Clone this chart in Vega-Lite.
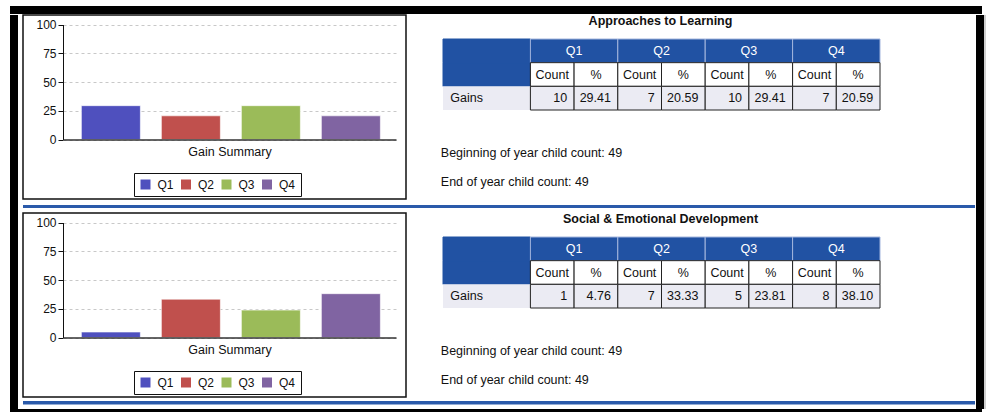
{
  "$schema": "https://vega.github.io/schema/vega-lite/v6.json",
  "padding": {"left": 10, "top": 6, "right": 0, "bottom": 0},
  "background": "white",
  "config": {"font": "Liberation Sans", "view": {"stroke": null}},
  "datasets": {
    "hdr": [
      {"col": "label", "row": "head"}, {"col": "label", "row": "sub"},
      {"col": "Q1", "row": "head", "text": "Q1"}, {"col": "Q2", "row": "head", "text": "Q2"},
      {"col": "Q3", "row": "head", "text": "Q3"}, {"col": "Q4", "row": "head", "text": "Q4"}
    ],
    "sub": [
      {"col": "Q1", "sub": "Count", "row": "sub", "text": "Count"}, {"col": "Q1", "sub": "%", "row": "sub", "text": "%"},
      {"col": "Q2", "sub": "Count", "row": "sub", "text": "Count"}, {"col": "Q2", "sub": "%", "row": "sub", "text": "%"},
      {"col": "Q3", "sub": "Count", "row": "sub", "text": "Count"}, {"col": "Q3", "sub": "%", "row": "sub", "text": "%"},
      {"col": "Q4", "sub": "Count", "row": "sub", "text": "Count"}, {"col": "Q4", "sub": "%", "row": "sub", "text": "%"}
    ],
    "gainsLabel": [{"col": "label", "row": "Gains", "text": "Gains"}],
    "gains1": [
      {"col": "Q1", "sub": "Count", "row": "Gains", "text": "10"}, {"col": "Q1", "sub": "%", "row": "Gains", "text": "29.41"},
      {"col": "Q2", "sub": "Count", "row": "Gains", "text": "7"}, {"col": "Q2", "sub": "%", "row": "Gains", "text": "20.59"},
      {"col": "Q3", "sub": "Count", "row": "Gains", "text": "10"}, {"col": "Q3", "sub": "%", "row": "Gains", "text": "29.41"},
      {"col": "Q4", "sub": "Count", "row": "Gains", "text": "7"}, {"col": "Q4", "sub": "%", "row": "Gains", "text": "20.59"}
    ],
    "gains2": [
      {"col": "Q1", "sub": "Count", "row": "Gains", "text": "1"}, {"col": "Q1", "sub": "%", "row": "Gains", "text": "4.76"},
      {"col": "Q2", "sub": "Count", "row": "Gains", "text": "7"}, {"col": "Q2", "sub": "%", "row": "Gains", "text": "33.33"},
      {"col": "Q3", "sub": "Count", "row": "Gains", "text": "5"}, {"col": "Q3", "sub": "%", "row": "Gains", "text": "23.81"},
      {"col": "Q4", "sub": "Count", "row": "Gains", "text": "8"}, {"col": "Q4", "sub": "%", "row": "Gains", "text": "38.10"}
    ],
    "bars1": [{"q": "Q1", "pct": 29.41}, {"q": "Q2", "pct": 20.59}, {"q": "Q3", "pct": 29.41}, {"q": "Q4", "pct": 20.59}],
    "bars2": [{"q": "Q1", "pct": 4.76}, {"q": "Q2", "pct": 33.33}, {"q": "Q3", "pct": 23.81}, {"q": "Q4", "pct": 38.10}],
    "info": [{"line": "begin", "text": "Beginning of year child count: 49"}, {"line": "end", "text": "End of year child count: 49"}]
  },
  "spacing": 0,
  "resolve": {"scale": {"color": "independent"}, "legend": {"color": "independent"}},
  "vconcat": [
    {"width": 972, "height": 8, "data": {"values": [{}]}, "mark": {"type": "point", "opacity": 0, "size": 0}, "encoding": {}, "view": {"fill": "black", "stroke": null}},
    {
      "spacing": 0,
      "resolve": {"scale": {"color": "independent"}, "legend": {"color": "independent"}},
      "hconcat": [
        {"width": 8, "height": 394, "data": {"values": [{}]}, "mark": {"type": "point", "opacity": 0, "size": 0}, "encoding": {}, "view": {"fill": "black", "stroke": null}},
        {"width": 3.25, "height": 1, "data": {"values": [{}]}, "mark": {"type": "point", "opacity": 0, "size": 0}, "encoding": {}, "view": {"stroke": null}},
        {
          "spacing": 0,
          "resolve": {"scale": {"color": "independent"}, "legend": {"color": "independent"}},
          "vconcat": [
            {
              "spacing": 0,
              "resolve": {"scale": {"color": "independent"}, "legend": {"color": "independent"}},
              "hconcat": [
                {
                  "width": 383, "height": 184,
                  "view": {"stroke": "#111", "strokeWidth": 1.5},
                  "data": {"name": "bars1"},
                  "mark": {"type": "bar", "stroke": "white", "strokeWidth": 1, "strokeOpacity": 0.6},
                  "encoding": {
                    "x": {"field": "q", "type": "nominal",
                      "scale": {"domain": ["Q1", "Q2", "Q3", "Q4"], "range": [40, 373], "paddingInner": 0.2625, "paddingOuter": 0.2125, "align": 0.54},
                      "axis": {"orient": "bottom", "offset": -59.5, "labels": false, "ticks": false, "domain": true, "domainColor": "#333", "domainWidth": 1.5, "grid": false, "zindex": 1,
                        "title": "Gain Summary", "titleFontSize": 12.5, "titleFontWeight": "normal", "titleColor": "#111", "titlePadding": 6}},
                    "y": {"field": "pct", "type": "quantitative",
                      "scale": {"domain": [0, 100], "range": [124.5, 9.5], "nice": false},
                      "axis": {"orient": "left", "offset": -40, "values": [0, 25, 50, 75, 100], "grid": true, "gridColor": "#c8c8c8", "gridDash": [3, 3],
                        "domainColor": "#111", "tickColor": "#111", "tickSize": 5, "labelFontSize": 12, "labelColor": "#111", "labelPadding": 2, "title": null}},
                    "color": {"field": "q", "type": "nominal",
                      "scale": {"domain": ["Q1", "Q2", "Q3", "Q4"], "range": ["#4F50BE", "#C0504D", "#9BBB59", "#8064A2"]},
                      "legend": {"orient": "none", "legendX": 111, "legendY": 158, "direction": "horizontal", "title": null, "strokeColor": "#111", "padding": 5.5,
                        "symbolType": "square", "symbolSize": 100, "symbolStrokeWidth": 0, "symbolOpacity": 1, "labelFontSize": 12, "labelColor": "#111", "labelOffset": 6, "columnPadding": 5.5}}
                  }
                },
                {
                  "width": 569, "height": 184,
                  "view": {"stroke": null},
                  "title": {"text": "Approaches to Learning", "anchor": "middle", "frame": "group", "offset": -12, "dx": -31, "fontSize": 12.5, "fontWeight": "bold", "color": "#111"},
                  "resolve": {"scale": {"y": "independent"}},
                  "layer": [
                    {"data": {"name": "hdr"}, "mark": {"type": "rect", "fill": "#2152A3", "strokeWidth": 1},
                      "encoding": {
                        "x": {"field": "col", "type": "nominal", "scale": {"domain": ["label", "Q1", "Q2", "Q3", "Q4"], "range": [36, 473], "paddingInner": 0, "paddingOuter": 0}, "axis": null},
                        "y": {"field": "row", "type": "nominal", "scale": {"domain": ["head", "sub", "Gains"], "range": [24, 95], "paddingInner": 0, "paddingOuter": 0}, "axis": null},
                        "stroke": {"condition": {"test": "datum.col === 'label'", "value": "#2152A3"}, "value": "#A3B5DD"}}},
                    {"data": {"name": "hdr"}, "transform": [{"filter": "datum.col !== 'label'"}], "mark": {"type": "text", "color": "white", "fontSize": 12.5},
                      "encoding": {
                        "x": {"field": "col", "type": "nominal", "scale": {"domain": ["label", "Q1", "Q2", "Q3", "Q4"], "range": [36, 473], "paddingInner": 0, "paddingOuter": 0}, "axis": null},
                        "y": {"field": "row", "type": "nominal", "scale": {"domain": ["head", "sub", "Gains"], "range": [24, 95], "paddingInner": 0, "paddingOuter": 0}, "axis": null},
                        "text": {"field": "text"}}},
                    {"data": {"name": "sub"}, "mark": {"type": "rect", "fill": "white", "stroke": "#222", "strokeWidth": 1},
                      "encoding": {
                        "x": {"field": "col", "type": "nominal", "scale": {"domain": ["label", "Q1", "Q2", "Q3", "Q4"], "range": [36, 473], "paddingInner": 0, "paddingOuter": 0}, "axis": null},
                        "xOffset": {"field": "sub", "type": "nominal", "scale": {"domain": ["Count", "%"], "paddingInner": 0, "paddingOuter": 0}},
                        "y": {"field": "row", "type": "nominal", "scale": {"domain": ["head", "sub", "Gains"], "range": [24, 95], "paddingInner": 0, "paddingOuter": 0}, "axis": null}}},
                    {"data": {"name": "sub"}, "mark": {"type": "text", "color": "#111", "fontSize": 12.5},
                      "encoding": {
                        "x": {"field": "col", "type": "nominal", "scale": {"domain": ["label", "Q1", "Q2", "Q3", "Q4"], "range": [36, 473], "paddingInner": 0, "paddingOuter": 0}, "axis": null},
                        "xOffset": {"field": "sub", "type": "nominal", "scale": {"domain": ["Count", "%"], "paddingInner": 0, "paddingOuter": 0}},
                        "y": {"field": "row", "type": "nominal", "scale": {"domain": ["head", "sub", "Gains"], "range": [24, 95], "paddingInner": 0, "paddingOuter": 0}, "axis": null},
                        "text": {"field": "text"}}},
                    {"data": {"name": "gainsLabel"}, "mark": {"type": "rect", "fill": "#EBEBF3"},
                      "encoding": {
                        "x": {"field": "col", "type": "nominal", "scale": {"domain": ["label", "Q1", "Q2", "Q3", "Q4"], "range": [36, 473], "paddingInner": 0, "paddingOuter": 0}, "axis": null},
                        "y": {"field": "row", "type": "nominal", "scale": {"domain": ["head", "sub", "Gains"], "range": [24, 95], "paddingInner": 0, "paddingOuter": 0}, "axis": null}}},
                    {"data": {"name": "gainsLabel"}, "mark": {"type": "text", "align": "left", "dx": -36.4, "color": "#111", "fontSize": 12.5},
                      "encoding": {
                        "x": {"field": "col", "type": "nominal", "scale": {"domain": ["label", "Q1", "Q2", "Q3", "Q4"], "range": [36, 473], "paddingInner": 0, "paddingOuter": 0}, "axis": null},
                        "y": {"field": "row", "type": "nominal", "scale": {"domain": ["head", "sub", "Gains"], "range": [24, 95], "paddingInner": 0, "paddingOuter": 0}, "axis": null},
                        "text": {"field": "text"}}},
                    {"data": {"name": "gains1"}, "mark": {"type": "rect", "fill": "#EBEBF3", "stroke": "#222", "strokeWidth": 1},
                      "encoding": {
                        "x": {"field": "col", "type": "nominal", "scale": {"domain": ["label", "Q1", "Q2", "Q3", "Q4"], "range": [36, 473], "paddingInner": 0, "paddingOuter": 0}, "axis": null},
                        "xOffset": {"field": "sub", "type": "nominal", "scale": {"domain": ["Count", "%"], "paddingInner": 0, "paddingOuter": 0}},
                        "y": {"field": "row", "type": "nominal", "scale": {"domain": ["head", "sub", "Gains"], "range": [24, 95], "paddingInner": 0, "paddingOuter": 0}, "axis": null}}},
                    {"data": {"name": "gains1"}, "mark": {"type": "text", "align": "right", "dx": 15, "color": "#111", "fontSize": 12.5},
                      "encoding": {
                        "x": {"field": "col", "type": "nominal", "scale": {"domain": ["label", "Q1", "Q2", "Q3", "Q4"], "range": [36, 473], "paddingInner": 0, "paddingOuter": 0}, "axis": null},
                        "xOffset": {"field": "sub", "type": "nominal", "scale": {"domain": ["Count", "%"], "paddingInner": 0, "paddingOuter": 0}},
                        "y": {"field": "row", "type": "nominal", "scale": {"domain": ["head", "sub", "Gains"], "range": [24, 95], "paddingInner": 0, "paddingOuter": 0}, "axis": null},
                        "text": {"field": "text"}}},
                    {"data": {"name": "info"}, "mark": {"type": "text", "align": "left", "dx": -45.9, "color": "#111", "fontSize": 12.5},
                      "encoding": {
                        "x": {"datum": "label", "type": "nominal", "scale": {"domain": ["label", "Q1", "Q2", "Q3", "Q4"], "range": [36, 473], "paddingInner": 0, "paddingOuter": 0}, "axis": null},
                        "y": {"field": "line", "type": "nominal", "scale": {"type": "point", "domain": ["begin", "end"], "range": [137.5, 167], "padding": 0}, "axis": null},
                        "text": {"field": "text"}}}
                  ]
                }
              ]
            },
            {"width": 952, "height": 4.5, "data": {"values": [{}]}, "mark": {"type": "point", "opacity": 0, "size": 0}, "encoding": {}, "view": {"stroke": null}},
            {"width": 952, "height": 3, "data": {"values": [{}]}, "mark": {"type": "point", "opacity": 0, "size": 0}, "encoding": {}, "view": {"fill": "#2A5AAA", "stroke": null}},
            {"width": 952, "height": 3.5, "data": {"values": [{}]}, "mark": {"type": "point", "opacity": 0, "size": 0}, "encoding": {}, "view": {"stroke": null}},
            {
              "spacing": 0,
              "resolve": {"scale": {"color": "independent"}, "legend": {"color": "independent"}},
              "hconcat": [
                {
                  "width": 383, "height": 184,
                  "view": {"stroke": "#111", "strokeWidth": 1.5},
                  "data": {"name": "bars2"},
                  "mark": {"type": "bar", "stroke": "white", "strokeWidth": 1, "strokeOpacity": 0.6},
                  "encoding": {
                    "x": {"field": "q", "type": "nominal",
                      "scale": {"domain": ["Q1", "Q2", "Q3", "Q4"], "range": [40, 373], "paddingInner": 0.2625, "paddingOuter": 0.2125, "align": 0.54},
                      "axis": {"orient": "bottom", "offset": -59.5, "labels": false, "ticks": false, "domain": true, "domainColor": "#333", "domainWidth": 1.5, "grid": false, "zindex": 1,
                        "title": "Gain Summary", "titleFontSize": 12.5, "titleFontWeight": "normal", "titleColor": "#111", "titlePadding": 6}},
                    "y": {"field": "pct", "type": "quantitative",
                      "scale": {"domain": [0, 100], "range": [124.5, 9.5], "nice": false},
                      "axis": {"orient": "left", "offset": -40, "values": [0, 25, 50, 75, 100], "grid": true, "gridColor": "#c8c8c8", "gridDash": [3, 3],
                        "domainColor": "#111", "tickColor": "#111", "tickSize": 5, "labelFontSize": 12, "labelColor": "#111", "labelPadding": 2, "title": null}},
                    "color": {"field": "q", "type": "nominal",
                      "scale": {"domain": ["Q1", "Q2", "Q3", "Q4"], "range": ["#4F50BE", "#C0504D", "#9BBB59", "#8064A2"]},
                      "legend": {"orient": "none", "legendX": 111, "legendY": 158, "direction": "horizontal", "title": null, "strokeColor": "#111", "padding": 5.5,
                        "symbolType": "square", "symbolSize": 100, "symbolStrokeWidth": 0, "symbolOpacity": 1, "labelFontSize": 12, "labelColor": "#111", "labelOffset": 6, "columnPadding": 5.5}}
                  }
                },
                {
                  "width": 569, "height": 184,
                  "view": {"stroke": null},
                  "title": {"text": "Social & Emotional Development", "anchor": "middle", "frame": "group", "offset": -12, "dx": -31, "fontSize": 12.5, "fontWeight": "bold", "color": "#111"},
                  "resolve": {"scale": {"y": "independent"}},
                  "layer": [
                    {"data": {"name": "hdr"}, "mark": {"type": "rect", "fill": "#2152A3", "strokeWidth": 1},
                      "encoding": {
                        "x": {"field": "col", "type": "nominal", "scale": {"domain": ["label", "Q1", "Q2", "Q3", "Q4"], "range": [36, 473], "paddingInner": 0, "paddingOuter": 0}, "axis": null},
                        "y": {"field": "row", "type": "nominal", "scale": {"domain": ["head", "sub", "Gains"], "range": [24, 95], "paddingInner": 0, "paddingOuter": 0}, "axis": null},
                        "stroke": {"condition": {"test": "datum.col === 'label'", "value": "#2152A3"}, "value": "#A3B5DD"}}},
                    {"data": {"name": "hdr"}, "transform": [{"filter": "datum.col !== 'label'"}], "mark": {"type": "text", "color": "white", "fontSize": 12.5},
                      "encoding": {
                        "x": {"field": "col", "type": "nominal", "scale": {"domain": ["label", "Q1", "Q2", "Q3", "Q4"], "range": [36, 473], "paddingInner": 0, "paddingOuter": 0}, "axis": null},
                        "y": {"field": "row", "type": "nominal", "scale": {"domain": ["head", "sub", "Gains"], "range": [24, 95], "paddingInner": 0, "paddingOuter": 0}, "axis": null},
                        "text": {"field": "text"}}},
                    {"data": {"name": "sub"}, "mark": {"type": "rect", "fill": "white", "stroke": "#222", "strokeWidth": 1},
                      "encoding": {
                        "x": {"field": "col", "type": "nominal", "scale": {"domain": ["label", "Q1", "Q2", "Q3", "Q4"], "range": [36, 473], "paddingInner": 0, "paddingOuter": 0}, "axis": null},
                        "xOffset": {"field": "sub", "type": "nominal", "scale": {"domain": ["Count", "%"], "paddingInner": 0, "paddingOuter": 0}},
                        "y": {"field": "row", "type": "nominal", "scale": {"domain": ["head", "sub", "Gains"], "range": [24, 95], "paddingInner": 0, "paddingOuter": 0}, "axis": null}}},
                    {"data": {"name": "sub"}, "mark": {"type": "text", "color": "#111", "fontSize": 12.5},
                      "encoding": {
                        "x": {"field": "col", "type": "nominal", "scale": {"domain": ["label", "Q1", "Q2", "Q3", "Q4"], "range": [36, 473], "paddingInner": 0, "paddingOuter": 0}, "axis": null},
                        "xOffset": {"field": "sub", "type": "nominal", "scale": {"domain": ["Count", "%"], "paddingInner": 0, "paddingOuter": 0}},
                        "y": {"field": "row", "type": "nominal", "scale": {"domain": ["head", "sub", "Gains"], "range": [24, 95], "paddingInner": 0, "paddingOuter": 0}, "axis": null},
                        "text": {"field": "text"}}},
                    {"data": {"name": "gainsLabel"}, "mark": {"type": "rect", "fill": "#EBEBF3"},
                      "encoding": {
                        "x": {"field": "col", "type": "nominal", "scale": {"domain": ["label", "Q1", "Q2", "Q3", "Q4"], "range": [36, 473], "paddingInner": 0, "paddingOuter": 0}, "axis": null},
                        "y": {"field": "row", "type": "nominal", "scale": {"domain": ["head", "sub", "Gains"], "range": [24, 95], "paddingInner": 0, "paddingOuter": 0}, "axis": null}}},
                    {"data": {"name": "gainsLabel"}, "mark": {"type": "text", "align": "left", "dx": -36.4, "color": "#111", "fontSize": 12.5},
                      "encoding": {
                        "x": {"field": "col", "type": "nominal", "scale": {"domain": ["label", "Q1", "Q2", "Q3", "Q4"], "range": [36, 473], "paddingInner": 0, "paddingOuter": 0}, "axis": null},
                        "y": {"field": "row", "type": "nominal", "scale": {"domain": ["head", "sub", "Gains"], "range": [24, 95], "paddingInner": 0, "paddingOuter": 0}, "axis": null},
                        "text": {"field": "text"}}},
                    {"data": {"name": "gains2"}, "mark": {"type": "rect", "fill": "#EBEBF3", "stroke": "#222", "strokeWidth": 1},
                      "encoding": {
                        "x": {"field": "col", "type": "nominal", "scale": {"domain": ["label", "Q1", "Q2", "Q3", "Q4"], "range": [36, 473], "paddingInner": 0, "paddingOuter": 0}, "axis": null},
                        "xOffset": {"field": "sub", "type": "nominal", "scale": {"domain": ["Count", "%"], "paddingInner": 0, "paddingOuter": 0}},
                        "y": {"field": "row", "type": "nominal", "scale": {"domain": ["head", "sub", "Gains"], "range": [24, 95], "paddingInner": 0, "paddingOuter": 0}, "axis": null}}},
                    {"data": {"name": "gains2"}, "mark": {"type": "text", "align": "right", "dx": 15, "color": "#111", "fontSize": 12.5},
                      "encoding": {
                        "x": {"field": "col", "type": "nominal", "scale": {"domain": ["label", "Q1", "Q2", "Q3", "Q4"], "range": [36, 473], "paddingInner": 0, "paddingOuter": 0}, "axis": null},
                        "xOffset": {"field": "sub", "type": "nominal", "scale": {"domain": ["Count", "%"], "paddingInner": 0, "paddingOuter": 0}},
                        "y": {"field": "row", "type": "nominal", "scale": {"domain": ["head", "sub", "Gains"], "range": [24, 95], "paddingInner": 0, "paddingOuter": 0}, "axis": null},
                        "text": {"field": "text"}}},
                    {"data": {"name": "info"}, "mark": {"type": "text", "align": "left", "dx": -45.9, "color": "#111", "fontSize": 12.5},
                      "encoding": {
                        "x": {"datum": "label", "type": "nominal", "scale": {"domain": ["label", "Q1", "Q2", "Q3", "Q4"], "range": [36, 473], "paddingInner": 0, "paddingOuter": 0}, "axis": null},
                        "y": {"field": "line", "type": "nominal", "scale": {"type": "point", "domain": ["begin", "end"], "range": [137.5, 167], "padding": 0}, "axis": null},
                        "text": {"field": "text"}}}
                  ]
                }
              ]
            },
            {"width": 952, "height": 3, "data": {"values": [{}]}, "mark": {"type": "point", "opacity": 0, "size": 0}, "encoding": {}, "view": {"stroke": null}},
            {"width": 952, "height": 3.5, "data": {"values": [{}]}, "mark": {"type": "point", "opacity": 0, "size": 0}, "encoding": {}, "view": {"fill": "#2A5AAA", "stroke": null}}
          ]
        },
        {"width": 8, "height": 394, "data": {"values": [{}]}, "mark": {"type": "point", "opacity": 0, "size": 0}, "encoding": {}, "view": {"fill": "black", "stroke": null}},
        {"width": 3, "height": 394, "data": {"values": [{}]}, "mark": {"type": "point", "opacity": 0, "size": 0}, "encoding": {}, "view": {"fill": "#cfcfcf", "stroke": null}}
      ]
    },
    {"width": 972, "height": 4, "data": {"values": [{}]}, "mark": {"type": "point", "opacity": 0, "size": 0}, "encoding": {}, "view": {"fill": "black", "stroke": null}}
  ]
}
